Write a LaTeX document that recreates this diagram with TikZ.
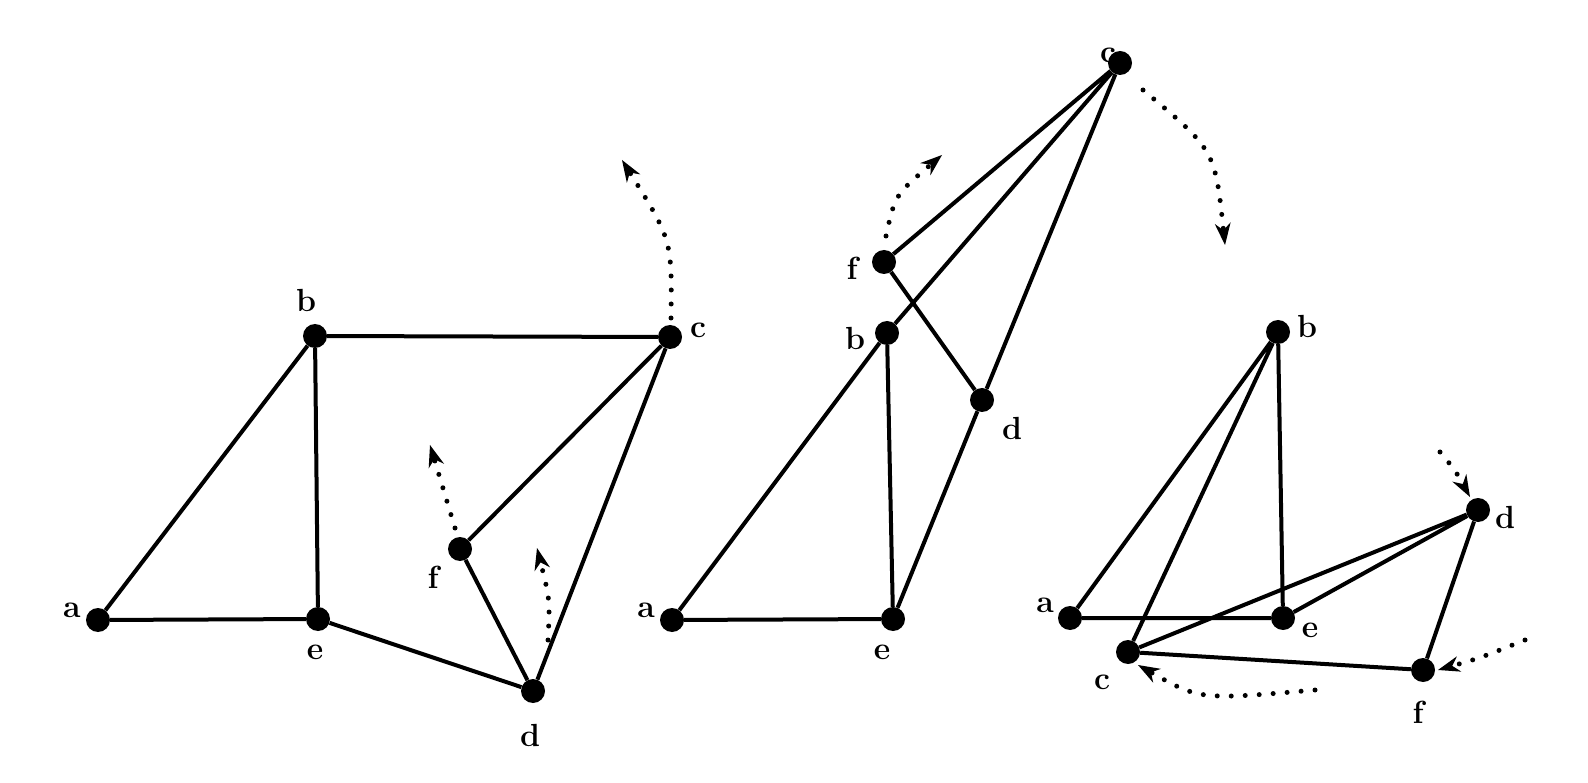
\documentclass[tikz,border=0pt]{standalone}
\usetikzlibrary{arrows.meta}
\begin{document}
\begin{tikzpicture}[x=1pt,y=-1pt,
  vtx/.style={circle,fill=black,inner sep=0pt,minimum size=24pt},
  edge/.style={line width=4pt},
  mv/.style={line width=5pt,line cap=round,dash pattern=on 0pt off 14pt,-{Stealth[length=22pt,width=16pt,line cap=round,line width=0pt]}},
  lab/.style={font=\fontsize{32}{32}\selectfont\bfseries}]
\useasboundingbox (0,0) rectangle (1588,783);
% graph 1
\node[vtx] (a1) at (98,620) {};
\node[vtx] (b1) at (315,336) {};
\node[vtx] (c1) at (670,337) {};
\node[vtx] (e1) at (318,619) {};
\node[vtx] (f1) at (460,549) {};
\node[vtx] (d1) at (533,691) {};
\draw[edge] (a1)--(b1) (b1)--(c1) (b1)--(e1) (a1)--(e1) (e1)--(d1) (c1)--(f1) (c1)--(d1) (f1)--(d1);
\node[lab] at (72,610) {a};
\node[lab] at (306,300) {b};
\node[lab] at (698,330) {c};
\node[lab] at (315,652) {e};
\node[lab] at (433,577) {f};
\node[lab] at (530,735) {d};
\coordinate (m1) at (622,160);
\coordinate (m2) at (430,445);
\coordinate (m3) at (537,548);
\draw[mv] (671,318) .. controls (672,240) .. (m1);
\draw[mv] (455,528) -- (m2);
\draw[mv] (548,640) .. controls (550,600) .. (m3);
% graph 2
\node[vtx] (a2) at (672,620) {};
\node[vtx] (b2) at (887,333) {};
\node[vtx] (c2) at (1120,63) {};
\node[vtx] (e2) at (893,619) {};
\node[vtx] (f2) at (884,262) {};
\node[vtx] (d2) at (982,400) {};
\draw[edge] (a2)--(b2) (b2)--(c2) (c2)--(f2) (c2)--(d2) (f2)--(d2) (b2)--(e2) (a2)--(e2) (d2)--(e2);
\node[lab] at (646,610) {a};
\node[lab] at (855,338) {b};
\node[lab] at (1108,55) {c};
\node[lab] at (882,652) {e};
\node[lab] at (852,268) {f};
\node[lab] at (1012,428) {d};
\coordinate (m4) at (942,155);
\coordinate (m5) at (1225,245);
\draw[mv] (886,236) .. controls (895,195) .. (m4);
\draw[mv] (1143,90) .. controls (1215,150) .. (m5);
% graph 3
\node[vtx] (a3) at (1070,618) {};
\node[vtx] (b3) at (1278,332) {};
\node[vtx] (c3) at (1128,652) {};
\node[vtx] (e3) at (1283,618) {};
\node[vtx] (f3) at (1423,670) {};
\node[vtx] (d3) at (1478,510) {};
\draw[edge] (a3)--(b3) (b3)--(c3) (b3)--(e3) (a3)--(e3) (c3)--(d3) (e3)--(d3) (c3)--(f3) (f3)--(d3);
\node[lab] at (1045,605) {a};
\node[lab] at (1307,326) {b};
\node[lab] at (1102,682) {c};
\node[lab] at (1310,630) {e};
\node[lab] at (1418,712) {f};
\node[lab] at (1505,517) {d};
\coordinate (m6) at (1470,497);
\coordinate (m7) at (1438,670);
\coordinate (m8) at (1138,665);
\draw[mv] (1440,452) .. controls (1455,470) .. (m6);
\draw[mv] (1525,640) .. controls (1480,658) .. (m7);
\draw[mv] (1315,690) .. controls (1200,700) .. (m8);
\end{tikzpicture}
\end{document}
